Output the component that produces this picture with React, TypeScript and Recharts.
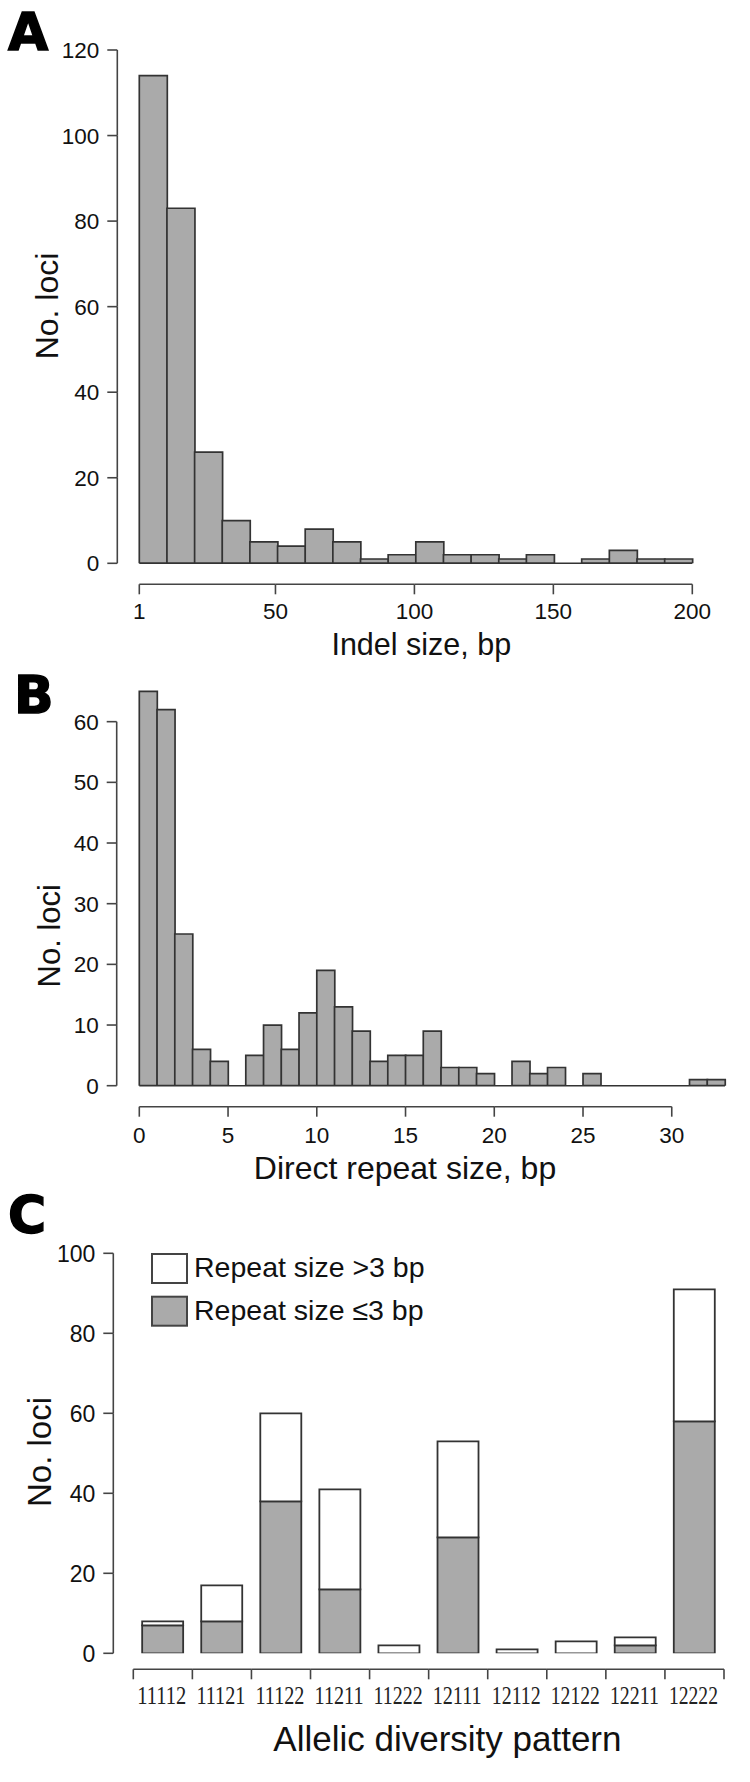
import React from 'react'
import { Bar, BarChart, Legend, ReferenceLine, XAxis, YAxis } from 'recharts'

// A - indel size histogram (20 bins, 1-200 bp)
const indelBinStart = [1, 11, 21, 31, 41, 51, 61, 71, 81, 91, 101, 111, 121, 131, 141, 151, 161, 171, 181, 191]
const indelCounts = [114, 83, 26, 10, 5, 4, 8, 5, 1, 2, 5, 2, 2, 1, 2, 0, 1, 3, 1, 1]
const indelTicks = [1, 50, 100, 150, 200]
const indelYTicks = [0, 20, 40, 60, 80, 100, 120]

// B - direct repeat size histogram (1 bp bins, 0-33)
const repeatBinStart = [0, 1, 2, 3, 4, 5, 6, 7, 8, 9, 10, 11, 12, 13, 14, 15, 16, 17, 18, 19, 20, 21, 22, 23, 24, 25, 26, 27, 28, 29, 30, 31, 32]
const repeatCounts = [65, 62, 25, 6, 4, 0, 5, 10, 6, 12, 19, 13, 9, 4, 5, 5, 9, 3, 3, 2, 0, 4, 2, 3, 0, 2, 0, 0, 0, 0, 0, 1, 1]
const repeatTicks = [0, 5, 10, 15, 20, 25, 30]
const repeatYTicks = [0, 10, 20, 30, 40, 50, 60]

// C - allelic diversity patterns, stacked by repeat size
const patterns = ['11112', '11121', '11122', '11211', '11222', '12111', '12112', '12122', '12211', '12222']
const shortRepeat = [7, 8, 38, 16, 0, 29, 0, 0, 2, 58] // <=3 bp
const longRepeat = [1, 9, 22, 25, 2, 24, 1, 3, 2, 33] // >3 bp
const patternYTicks = [0, 20, 40, 60, 80, 100]
const patternEdges = [0, 1, 2, 3, 4, 5, 6, 7, 8, 9, 10]

const indelData = indelCounts.map((n, i) => ({ lo: indelBinStart[i], n }))
const repeatData = repeatCounts.map((n, i) => ({ lo: repeatBinStart[i], n }))
const patternData = patterns.map((p, i) => ({ pattern: p, pos: i, short: shortRepeat[i], long: longRepeat[i] }))

const INK = '#111'
const AXIS = '#444'
const BAR_FILL = '#aaaaaa'
const BAR_LINE = '#333'
const SANS = '"Liberation Sans", Arial, sans-serif'
const SERIF = '"Liberation Serif", "Times New Roman", serif'

// R style axes: the line only runs between first and last tick,
// so each tick draws the piece back to the previous one
const leftTicks = (axisX: number, size: number) => {
  let prev: number | null = null
  return (p: any) => {
    const y = p.payload.coordinate
    if (p.index === 0) prev = null
    const from = prev
    prev = y
    return (
      <g>
        {from !== null && <line x1={axisX} x2={axisX} y1={from} y2={y} stroke={AXIS} strokeWidth={1.6} />}
        <line x1={axisX - 10} x2={axisX} y1={y} y2={y} stroke={AXIS} strokeWidth={1.6} />
        <text x={axisX - 18} y={y + size * 0.36} textAnchor="end" fontSize={size} fontFamily={SANS} fill={INK}>
          {p.payload.value}
        </text>
      </g>
    )
  }
}

const bottomTicks = (axisY: number, labelY: number, size: number, showLabel = true) => {
  let prev: number | null = null
  return (p: any) => {
    const x = p.payload.coordinate
    if (p.index === 0) prev = null
    const from = prev
    prev = x
    return (
      <g>
        {from !== null && <line x1={from} x2={x} y1={axisY} y2={axisY} stroke={AXIS} strokeWidth={1.6} />}
        <line x1={x} x2={x} y1={axisY} y2={axisY + 10} stroke={AXIS} strokeWidth={1.6} />
        {showLabel && (
          <text x={x} y={labelY} textAnchor="middle" fontSize={size} fontFamily={SANS} fill={INK}>
            {p.payload.value}
          </text>
        )}
      </g>
    )
  }
}

const patternTick = (p: any) => (
  <text x={p.payload.coordinate - 1} y={524} textAnchor="middle" fontSize={26} fontFamily={SERIF} fill="#222"
    textLength={49} lengthAdjust="spacingAndGlyphs">
    {p.payload.value}
  </text>
)

const yTitle = (x: number, y: number, size: number) => () => (
  <text transform={`translate(${x},${y}) rotate(-90)`} textAnchor="middle" fontSize={size} fontFamily={SANS} fill={INK}>
    No. loci
  </text>
)

const xTitle = (text: string, x: number, y: number, size: number) => () => (
  <text x={x} y={y} textAnchor="middle" fontSize={size} fontFamily={SANS} fill={INK}>
    {text}
  </text>
)

const tickAx = bottomTicks(584.3, 619, 22.5)
const tickAy = leftTicks(117.3, 22.5)
const tickBx = bottomTicks(466.7, 503, 22.5)
const tickBy = leftTicks(116.7, 22.5)
const tickCedge = bottomTicks(489.3, 0, 0, false)
const tickCy = leftTicks(113.3, 23)

// white (>3 bp) box on top, grey (<=3 bp) below
const legendOrder = ['long', 'short']
const renderLegend = (props: any) => {
  const items = [...(props.payload ?? [])].sort(
    (a: any, b: any) => legendOrder.indexOf(a.dataKey) - legendOrder.indexOf(b.dataKey))
  return (
    <svg width={320} height={80}>
      {items.map((e: any, i: number) => (
        <g key={e.value}>
          <rect x={1} y={2 + i * 42.7} width={35} height={29} fill={e.color} stroke={AXIS} strokeWidth={2} />
          <text x={43} y={25 + i * 43.3} fontSize={28.5} fontFamily={SANS} fill={INK}>{e.value}</text>
        </g>
      ))}
    </svg>
  )
}

const App = () => {
  return (
    <div style={{ position: 'absolute', left: 0, top: 0, width: 750, height: 1782, background: '#fff' }}>
      <div style={{ position: 'absolute', left: 0, top: 0 }}>
        <BarChart width={750} height={670} data={indelData} barCategoryGap={0} barGap={0}
          margin={{ top: 50, right: 57.7, bottom: 0, left: 0 }}>
          <XAxis dataKey="lo" hide />
          <XAxis xAxisId="num" dataKey="lo" type="number" domain={[1, 200]} allowDataOverflow ticks={indelTicks}
            interval={0} height={106.7} axisLine={false} tickLine={false} tick={tickAx}
            label={{ content: xTitle('Indel size, bp', 421.3, 655, 30.5) }} />
          <YAxis type="number" domain={[0, 120]} allowDataOverflow ticks={indelYTicks} interval={0} width={139.3}
            axisLine={false} tickLine={false} tick={tickAy} label={{ content: yTitle(57.5, 306, 32) }} />
          <ReferenceLine y={0} stroke={BAR_LINE} strokeWidth={1.6} />
          <Bar dataKey="n" fill={BAR_FILL} stroke={BAR_LINE} strokeWidth={1.7} isAnimationActive={false} />
        </BarChart>
      </div>

      <div style={{ position: 'absolute', left: 0, top: 640 }}>
        <BarChart width={750} height={550} data={repeatData} barCategoryGap={0} barGap={0}
          margin={{ top: 21, right: 25, bottom: 0, left: 0 }}>
          <XAxis dataKey="lo" hide />
          <XAxis xAxisId="num" dataKey="lo" type="number" domain={[0, 33]} allowDataOverflow ticks={repeatTicks}
            interval={0} height={104.3} axisLine={false} tickLine={false} tick={tickBx}
            label={{ content: xTitle('Direct repeat size, bp', 405, 539.3, 32) }} />
          <YAxis type="number" domain={[0, 70]} allowDataOverflow ticks={repeatYTicks} interval={0} width={139.3}
            axisLine={false} tickLine={false} tick={tickBy} label={{ content: yTitle(60, 295.7, 31) }} />
          <ReferenceLine y={0} stroke={BAR_LINE} strokeWidth={1.6} />
          <Bar dataKey="n" fill={BAR_FILL} stroke={BAR_LINE} strokeWidth={1.7} isAnimationActive={false} />
        </BarChart>
      </div>

      <div style={{ position: 'absolute', left: 0, top: 1180 }}>
        <BarChart width={750} height={602} data={patternData} barCategoryGap="15%"
          margin={{ top: 73.3, right: 26, bottom: 0, left: 0 }}>
          <XAxis dataKey="pattern" interval={0} height={127.7} axisLine={false} tickLine={false} tick={patternTick}
            label={{ content: xTitle('Allelic diversity pattern', 447.4, 570.5, 35) }} />
          <XAxis xAxisId="edge" dataKey="pos" type="number" domain={[0, patterns.length]} allowDataOverflow
            ticks={patternEdges} interval={0} height={1} axisLine={false} tickLine={false} tick={tickCedge} />
          <YAxis type="number" domain={[0, 100]} allowDataOverflow ticks={patternYTicks} interval={0} width={133.3}
            axisLine={false} tickLine={false} tick={tickCy} label={{ content: yTitle(50.5, 272, 33) }} />
          <Legend layout="horizontal" verticalAlign="middle" align="center" content={renderLegend}
            wrapperStyle={{ left: 151, top: 72, width: 320, height: 80 }} />
          <Bar dataKey="short" name="Repeat size ≤3 bp" stackId="s" fill={BAR_FILL} stroke={BAR_LINE} strokeWidth={1.8}
            isAnimationActive={false} />
          <Bar dataKey="long" name="Repeat size >3 bp" stackId="s" fill="#ffffff" stroke={BAR_LINE} strokeWidth={1.8}
            isAnimationActive={false} />
        </BarChart>
      </div>

      <svg width={750} height={1782} style={{ position: 'absolute', left: 0, top: 0, pointerEvents: 'none' }}>
        <g fontFamily='"DejaVu Sans", sans-serif' fontWeight="bold" fontSize={52} fill="#000" stroke="#000" strokeWidth={1.5}>
          <text x={8} y={50}>A</text>
          <text x={14} y={713}>B</text>
          <text x={8} y={1233}>C</text>
        </g>
      </svg>
    </div>
  )
}

export default App
